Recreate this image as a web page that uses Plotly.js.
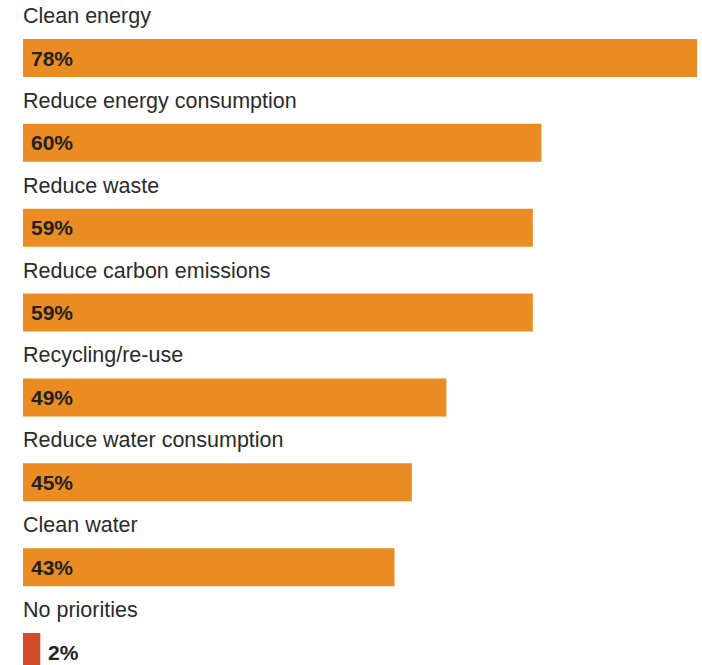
<!DOCTYPE html>
<html>
<head>
<meta charset="utf-8">
<script src="https://cdn.plot.ly/plotly-3.0.1.min.js"></script>
<style>
  html, body { margin: 0; padding: 0; background: #fff; }
  #chart { width: 702px; height: 665px; }
</style>
</head>
<body>
<div id="chart"></div>
<script>
const categories = [
  "Clean energy",
  "Reduce energy consumption",
  "Reduce waste",
  "Reduce carbon emissions",
  "Recycling/re-use",
  "Reduce water consumption",
  "Clean water",
  "No priorities"
];
const values = [78, 60, 59, 59, 49, 45, 43, 2];
const barColors = ["#EB8C22", "#EB8C22", "#EB8C22", "#EB8C22", "#EB8C22", "#EB8C22", "#EB8C22", "#D14B28"];

const positions = categories.map((c, i) => i);

const trace = {
  type: "bar",
  orientation: "h",
  x: values,
  y: positions,
  width: 0.448,
  marker: { color: barColors, line: { width: 0 } },
  hoverinfo: "skip"
};

const annotations = [];
categories.forEach((c, i) => {
  annotations.push({
    xref: "paper", yref: "y",
    x: 0, y: i,
    xanchor: "left", yanchor: "middle",
    xshift: -2, yshift: 42,
    text: c,
    showarrow: false,
    font: { family: "Liberation Sans, Arial, sans-serif", size: 21.5, color: "#2b2b2b" }
  });
  const inside = values[i] > 10;
  annotations.push({
    xref: "x", yref: "y",
    x: inside ? 0 : values[i], y: i,
    xanchor: "left", yanchor: "middle",
    xshift: 6, yshift: 0,
    text: "<b>" + values[i] + "%</b>",
    showarrow: false,
    font: { family: "Liberation Sans, Arial, sans-serif", size: 21, color: "#222222" }
  });
});

const layout = {
  width: 702, height: 665,
  margin: { l: 23, r: 5, t: 0, b: 0, pad: 0 },
  paper_bgcolor: "#ffffff",
  plot_bgcolor: "#ffffff",
  showlegend: false,
  xaxis: { range: [0, 78], visible: false, fixedrange: true },
  yaxis: { range: [7.1532, -0.6835], visible: false, fixedrange: true },
  annotations: annotations
};

Plotly.newPlot("chart", [trace], layout, { staticPlot: true, displayModeBar: false });
</script>
</body>
</html>
